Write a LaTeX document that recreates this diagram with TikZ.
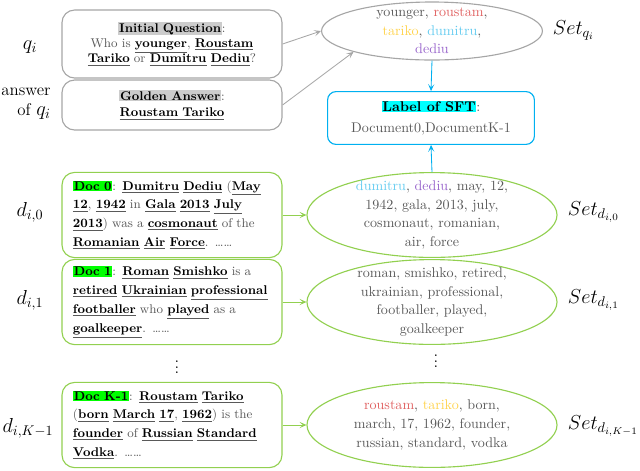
\documentclass[tikz,border=0pt]{standalone}
\usepackage{amsmath}
\usepackage{amssymb}
\usepackage{tikz}
\usepackage{xcolor}
\usetikzlibrary{positioning, calc, shapes.geometric, arrows.meta}

\definecolor{boxgray}{HTML}{A6A6A6}
\definecolor{docgreen}{HTML}{92D050}
\definecolor{sftcyan}{HTML}{00B0F0}
\definecolor{hlcyan}{HTML}{00FFFF}
\definecolor{hlgreen}{HTML}{00FF00}
\definecolor{wred}{HTML}{E06060}
\definecolor{wyellow}{HTML}{FFD34D}
\definecolor{wblue}{HTML}{66CCF0}
\definecolor{wpurple}{HTML}{9966CC}
\definecolor{txtgray}{HTML}{595959}

\newcommand{\kw}[1]{\underline{\textbf{\color{black}#1}}}
\newcommand{\hl}[2]{{\setlength{\fboxsep}{0.6pt}\colorbox{#1}{\textbf{\color{black}#2}}}}
\newcommand{\wc}[2]{\textcolor{#1}{#2}}

\begin{document}
\begin{tikzpicture}[x=0.025cm, y=-0.025cm,
    qbox/.style={draw=boxgray, thick, rounded corners=9pt, minimum width=5.5cm,
        text width=5.2cm, align=center, text=txtgray, font=\small, inner sep=2pt},
    docbox/.style={draw=docgreen, thick, rounded corners=9pt, minimum width=5.5cm,
        minimum height=2.13cm, text width=4.95cm, align=left, text=txtgray,
        font=\small, inner sep=2pt,
        execute at begin node={\setlength{\baselineskip}{13.4pt}}},
    setell/.style={ellipse, draw=docgreen, thick, minimum width=6.25cm,
        minimum height=2.12cm, inner sep=0pt},
    settxt/.style={text width=5cm, align=center, text=txtgray, font=\normalsize,
        execute at begin node={\setlength{\baselineskip}{13.2pt}}},
    sidelbl/.style={font=\Large, align=right},
    setlbl/.style={font=\Large, anchor=west},
    arr/.style={-{Stealth[length=5pt, width=4.5pt, inset=2.5pt]}, semithick}
]
\useasboundingbox (0,0) rectangle (640,470);

% question and answer
\node[qbox, minimum height=1.7cm] (quest) at (172,44) {\hl{gray!40}{Initial Question}:\\
    Who is \kw{younger}, \kw{Roustam}\\ \kw{Tariko} or \kw{Dumitru} \kw{Dediu}?};
\node[qbox, minimum height=1.25cm] (answ) at (172,105) {\hl{gray!40}{Golden Answer}:\\[1pt]
    \kw{Roustam Tariko}};
\node[sidelbl] (lq) at (30,47) {$q_i$};
\node[sidelbl, font=\large, inner sep=0pt] (la) at (26,104) {answer\\ of \Large$q_i$};

% set of question
\node[setell, draw=boxgray, minimum width=5.52cm, minimum height=1.45cm] (setq) at (432,31) {};
\node[settxt] (setqtxt) at (setq.center) {younger, \wc{wred}{roustam},\\
    \wc{wyellow}{tariko}, \wc{wblue}{dumitru},\\ \wc{wpurple}{dediu}};
\node[setlbl] (lsq) at (548,30) {$Set_{q_i}$};

% label of SFT
\node[draw=sftcyan, thick, rounded corners=6pt, minimum width=5.17cm, minimum height=1.32cm,
    align=center, text=txtgray] (sft) at (431,118)
    {\hl{hlcyan}{Label of SFT}:\\[3pt] Document0,DocumentK-1};

% documents
\node[docbox] (doc0) at (172,215) {\hl{hlgreen}{Doc 0}: \kw{Dumitru} \kw{Dediu} (\kw{May}
    \kw{12}, \kw{1942} in \kw{Gala} \kw{2013} \kw{July} \kw{2013}) was a \kw{cosmonaut} of the
    \kw{Romanian} \kw{Air} \kw{Force}. \ldots\ldots};
\node[docbox] (doc1) at (172,302) {\hl{hlgreen}{Doc 1}: \kw{Roman} \kw{Smishko} is a
    \kw{retired} \kw{Ukrainian} \kw{professional} \kw{footballer} who \kw{played} as a
    \kw{goalkeeper}. \ldots\ldots};
\node[docbox] (dockm) at (172,425) {\hl{hlgreen}{Doc K-1}: \kw{Roustam} \kw{Tariko}
    (\kw{born} \kw{March} \kw{17}, \kw{1962}) is the \kw{founder} of \kw{Russian} \kw{Standard}
    \kw{Vodka}. \ldots\ldots};
\node[font=\large, inner sep=0pt] (vdots1) at (177,363) {$\vdots$};

\node[sidelbl] (ld0) at (30,212) {$d_{i,0}$};
\node[sidelbl] (ld1) at (30,300) {$d_{i,1}$};
\node[sidelbl] (ldk) at (28,428) {$d_{i,K-1}$};

% sets of documents
\node[setell] (set0) at (432,215) {};
\node[settxt] (set0txt) at (set0.center) {\wc{wblue}{dumitru}, \wc{wpurple}{dediu}, may, 12,\\
    1942, gala, 2013, july,\\ cosmonaut, romanian,\\ air, force};
\node[setell] (set1) at (432,302) {};
\node[settxt] (set1txt) at (set1.center) {roman, smishko, retired,\\ ukrainian, professional,\\
    footballer, played,\\ goalkeeper};
\node[font=\large, inner sep=0pt] (vdots2) at (436,357) {$\vdots$};
\node[setell] (setk) at (432,425) {};
\node[settxt] (setktxt) at (setk.center) {\wc{wred}{roustam}, \wc{wyellow}{tariko}, born,\\
    march, 17, 1962, founder,\\ russian, standard, vodka};

\node[setlbl] (ls0) at (563,212) {$Set_{d_{i,0}}$};
\node[setlbl] (ls1) at (563,300) {$Set_{d_{i,1}}$};
\node[setlbl] (lsk) at (563,426) {$Set_{d_{i,K-1}}$};

% arrows
\draw[arr, boxgray] (quest.east) -- (setq.west);
\draw[arr, boxgray] (answ.east) -- (setq.south west);
\draw[arr, sftcyan] (setq.south) -- (sft.north);
\draw[arr, sftcyan] (set0.north) -- (sft.south);
\draw[arr, docgreen] (doc0.east) -- (set0.west);
\draw[arr, docgreen] (doc1.east) -- (set1.west);
\draw[arr, docgreen] (dockm.east) -- (setk.west);
\end{tikzpicture}
\end{document}
